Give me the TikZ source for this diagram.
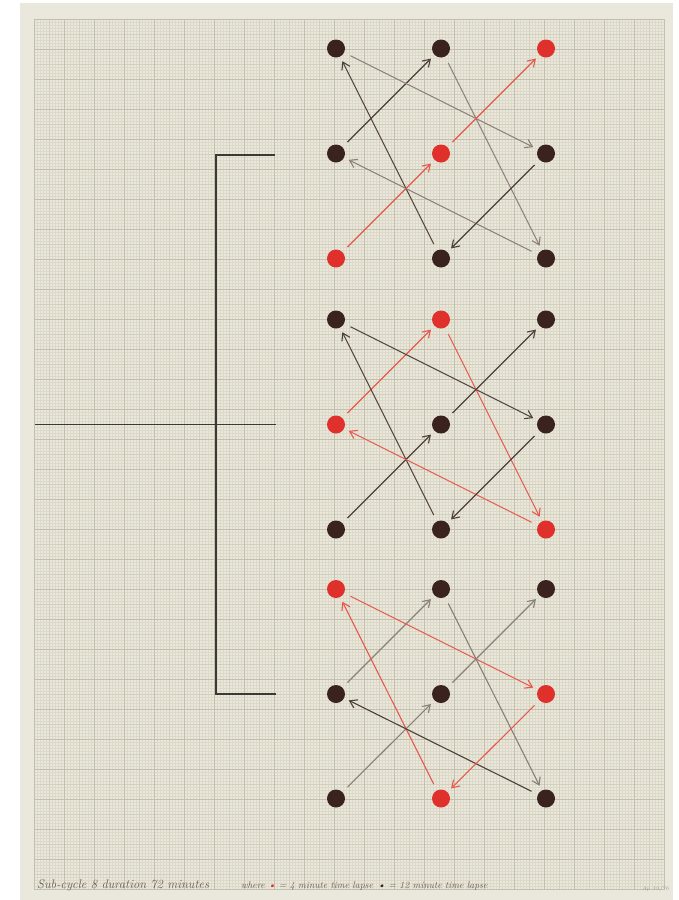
\documentclass[tikz,border=0pt]{standalone}
\usepackage{xcolor}
\usepackage{tikz}
\usetikzlibrary{positioning,arrows.meta}
\definecolor{papercolor}{HTML}{EAE8DC}
\definecolor{minorgrid}{HTML}{DCD9C8}
\definecolor{midgrid}{HTML}{D2CFBC}
\definecolor{majorgrid}{HTML}{C3BFAA}
\definecolor{dotblack}{HTML}{3A221F}
\definecolor{dotred}{HTML}{E0302B}
\definecolor{pencildark}{HTML}{4E403B}
\definecolor{pencilgray}{HTML}{8A7F79}
\definecolor{pencilred}{HTML}{E65A4E}
\definecolor{inkline}{HTML}{3C3835}

\begin{document}
\begin{tikzpicture}[
    x=1pt, y=-1pt,
    dot/.style={circle, minimum size=18pt, inner sep=0pt},
    blackdot/.style={dot, fill=dotblack},
    reddot/.style={dot, fill=dotred},
    link/.style={-{Straight Barb[length=7pt,width=9pt]}, line width=1.1pt, shorten <=7pt, shorten >=5pt},
    darklink/.style={link, draw=pencildark},
    graylink/.style={link, draw=pencilgray},
    redlink/.style={link, draw=pencilred},
    bracket/.style={draw=inkline, line width=1.8pt},
    caption/.style={font=\itshape\fontsize{12.5}{14}\selectfont, text=pencildark!85, inner sep=0pt, anchor=base west},
  ]
  \useasboundingbox (0,0) rectangle (679,900);
  \fill[white] (0,0) rectangle (679,900);
  \fill[papercolor] (20,3) rectangle (673,900);

  % graph paper
  \foreach \i in {0,...,210}
    \draw[minorgrid, line width=0.3pt] ({34.3+3*\i},19.3) -- ++(0,870);
  \foreach \j in {0,...,290}
    \draw[minorgrid, line width=0.3pt] (34.3,{19.3+3*\j}) -- ++(630,0);
  \foreach \i in {0,...,41}
    \draw[midgrid, line width=0.5pt] ({34.3+15*\i},19.3) -- ++(0,870);
  \foreach \j in {0,...,57}
    \draw[midgrid, line width=0.5pt] (34.3,{19.3+15*\j}) -- ++(630,0);
  \foreach \i in {0,...,21}
    \draw[majorgrid, line width=0.8pt] ({34.3+30*\i},19.3) -- ++(0,870);
  \foreach \j in {0,...,29}
    \draw[majorgrid, line width=0.8pt] (34.3,{19.3+30*\j}) -- ++(630,0);

  % bracket
  \draw[bracket] (275,155) -- (216,155) -- (216,694) -- (276,694);
  \draw[bracket] (35,424.5) -- (275.5,424.5);

  % top block
  \node[blackdot] (a00) at (336,48.5) {};
  \node[blackdot] (a10) at (441,48.5) {};
  \node[reddot]   (a20) at (546,48.5) {};
  \node[blackdot] (a01) at (336,153.5) {};
  \node[reddot]   (a11) at (441,153.5) {};
  \node[blackdot] (a21) at (546,153.5) {};
  \node[reddot]   (a02) at (336,258.5) {};
  \node[blackdot] (a12) at (441,258.5) {};
  \node[blackdot] (a22) at (546,258.5) {};

  % middle block
  \node[blackdot] (b00) at (336,319.5) {};
  \node[reddot]   (b10) at (441,319.5) {};
  \node[blackdot] (b20) at (546,319.5) {};
  \node[reddot]   (b01) at (336,424.5) {};
  \node[blackdot] (b11) at (441,424.5) {};
  \node[blackdot] (b21) at (546,424.5) {};
  \node[blackdot] (b02) at (336,529.5) {};
  \node[blackdot] (b12) at (441,529.5) {};
  \node[reddot]   (b22) at (546,529.5) {};

  % bottom block
  \node[reddot]   (c00) at (336,589) {};
  \node[blackdot] (c10) at (441,589) {};
  \node[blackdot] (c20) at (546,589) {};
  \node[blackdot] (c01) at (336,694) {};
  \node[blackdot] (c11) at (441,694) {};
  \node[reddot]   (c21) at (546,694) {};
  \node[blackdot] (c02) at (336,798.5) {};
  \node[reddot]   (c12) at (441,798.5) {};
  \node[blackdot] (c22) at (546,798.5) {};

  % moves, top block
  \draw[darklink] (a01) -- (a10);
  \draw[graylink] (a00) -- (a21);
  \draw[graylink] (a10) -- (a22);
  \draw[redlink]  (a11) -- (a20);
  \draw[redlink]  (a02) -- (a11);
  \draw[darklink] (a12) -- (a00);
  \draw[graylink] (a22) -- (a01);
  \draw[darklink] (a21) -- (a12);

  % moves, middle block
  \draw[redlink]  (b01) -- (b10);
  \draw[darklink] (b00) -- (b21);
  \draw[redlink]  (b10) -- (b22);
  \draw[darklink] (b11) -- (b20);
  \draw[darklink] (b02) -- (b11);
  \draw[darklink] (b12) -- (b00);
  \draw[redlink]  (b22) -- (b01);
  \draw[darklink] (b21) -- (b12);

  % moves, bottom block
  \draw[graylink] (c01) -- (c10);
  \draw[redlink]  (c00) -- (c21);
  \draw[graylink] (c10) -- (c22);
  \draw[graylink] (c11) -- (c20);
  \draw[graylink] (c02) -- (c11);
  \draw[redlink]  (c12) -- (c00);
  \draw[darklink] (c22) -- (c01);
  \draw[redlink]  (c21) -- (c12);

  % notes along the foot
  \node[caption] (subcycle) at (37,888) {Sub-cycle 8 duration 72 minutes};
  \node[caption, font=\itshape\fontsize{9.6}{12}\selectfont] (legend) at (241,888)
    {where \textcolor{dotred}{\textbullet} = 4 minute time lapse\enspace
     \textcolor{dotblack}{\textbullet} = 12 minute time lapse};
  \node[caption, font=\itshape\fontsize{5.5}{7}\selectfont, text=pencilgray!80] (mark) at (642,890) {Ap 19/76};
\end{tikzpicture}
\end{document}
